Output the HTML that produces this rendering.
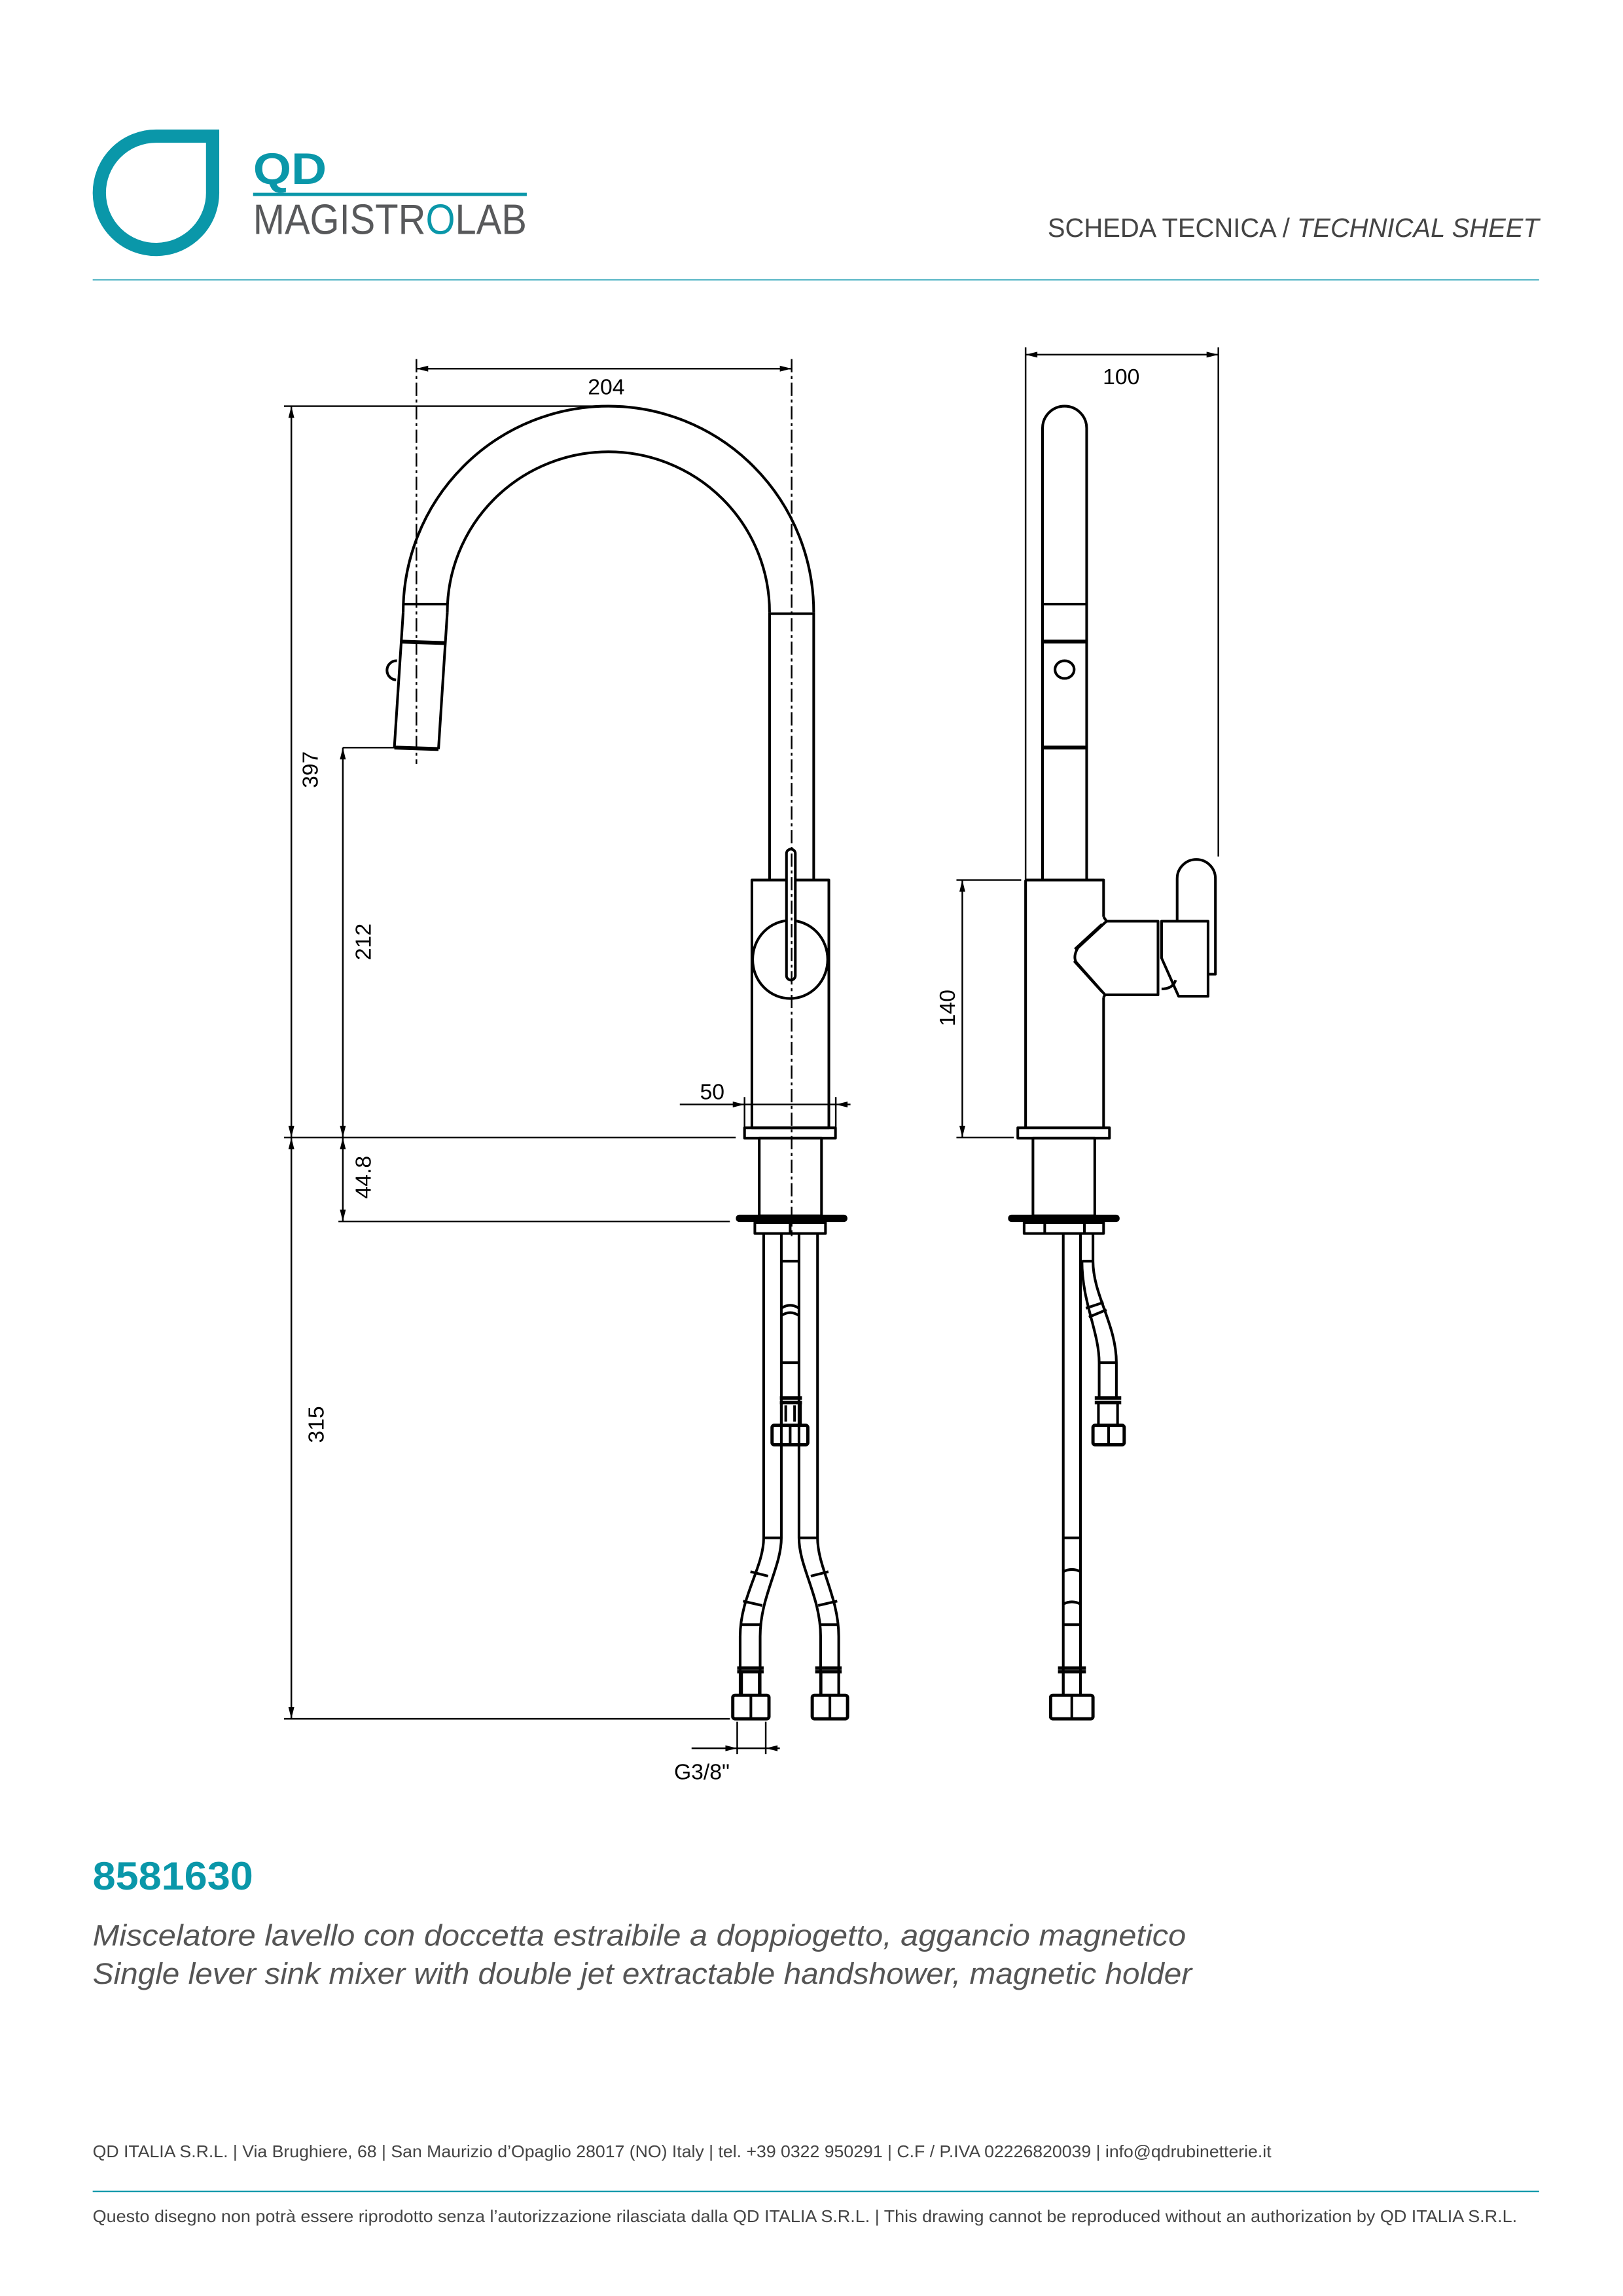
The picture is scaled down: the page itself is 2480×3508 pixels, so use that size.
<!DOCTYPE html>
<html><head><meta charset="utf-8"><style>
html,body{margin:0;padding:0;background:#fff;}
svg{display:block;}
</style></head><body>
<svg width="2480" height="3508" viewBox="0 0 1103 1560.2" xmlns="http://www.w3.org/2000/svg" font-family="Liberation Sans, sans-serif">
<rect width="1103" height="1561" fill="#fff"/>
<!-- Logo -->
<path d="M106,92.5 L144.5,92.5 L144.5,130 A38.5,38.5 0 1 1 106,92.5 Z" fill="none" stroke="#0a97a9" stroke-width="9"/>
<text x="172" y="125" font-size="30" font-weight="bold" fill="#0a97a9" textLength="50" lengthAdjust="spacingAndGlyphs">QD</text>
<rect x="172" y="131" width="186" height="2.2" fill="#0a97a9"/>
<text x="172" y="159" font-size="29" fill="#58595b" textLength="186" lengthAdjust="spacingAndGlyphs">MAGISTR<tspan fill="#0a97a9">O</tspan>LAB</text>
<text x="712" y="161" font-size="18" fill="#444" textLength="334" lengthAdjust="spacingAndGlyphs">SCHEDA TECNICA / <tspan font-style="italic">TECHNICAL SHEET</tspan></text>
<rect x="63" y="189.6" width="983" height="1" fill="#4fb3c3"/>

<g fill="none" stroke="#000" stroke-width="1.8" stroke-linejoin="round">
<!-- FRONT VIEW -->
<path d="M274,416 A139.5,140 0 0 1 553,416"/>
<path d="M304,416 A109.5,109 0 0 1 523,416"/>
<path d="M274,416 L268,508 M304,416 L298,509"/>
<path d="M274,410.5 L304,410.5"/>
<path d="M272.7,436 L302.7,437" stroke-width="2.6"/>
<path d="M268,508 L298,509" stroke-width="2.6"/>
<path d="M269.8,449 A6.5,6.5 0 0 0 269.2,462"/>
<path d="M523,417 L553,417 M523,416 V598 M553,416 V598"/>
<rect x="511" y="598" width="52.3" height="168.4"/>
<ellipse cx="537" cy="652" rx="25.5" ry="26.5"/>
<rect x="534.5" y="577" width="6" height="89" rx="3" fill="#fff"/>
<rect x="506" y="766.4" width="61.8" height="7"/>
<rect x="516" y="773.4" width="42.3" height="52.8"/>
<rect x="501" y="826.3" width="74" height="3.2" rx="1.5" fill="#000"/>
<rect x="513" y="830.8" width="48" height="7.4"/>
<path d="M537,830.8 V838.2"/>
<!-- front hoses -->
<path d="M519,839 V1045 C519,1065 503,1085 503,1112 V1152"/>
<path d="M531,839 V1045 C531,1065 516.6,1085 516.6,1112 V1152"/>
<path d="M555.6,839 V1045 C555.6,1065 570,1085 570,1112 V1152"/>
<path d="M543,839 V1045 C543,1065 557.7,1085 557.7,1112 V1152"/>
<path d="M519,1045 H531 M543,1045 H555.6 M510,1068 L522,1071 M551,1071 L563,1068 M505,1088 L518,1091 M556,1091 L569,1088 M503,1104 H516.6 M557.7,1104 H570"/>
<path d="M531,857 H543 M531,889 Q537,885 543,889 M531,894 Q537,890 543,894 M531,926 H543"/>
<path d="M530,950 H545 M530,953 H545" stroke-width="2.4"/>
<rect x="531" y="953" width="13" height="15.5"/>
<path d="M534,955 V966 M540,955 V966"/>
<rect x="524.7" y="968.5" width="24.3" height="13.3" rx="1.5" stroke-width="2.2"/>
<path d="M537,968.5 V981.8"/>
<path d="M501,1133.5 H519 M554,1133.5 H572 M501,1136 H519 M554,1136 H572" stroke-width="2.2"/>
<rect x="504" y="1136" width="12" height="16"/>
<rect x="558" y="1136" width="12" height="16"/>
<rect x="498" y="1152" width="24.6" height="16" rx="1.5" stroke-width="2.2"/>
<path d="M510.3,1152 V1168"/>
<rect x="552" y="1152" width="24" height="16" rx="1.5" stroke-width="2.2"/>
<path d="M564,1152 V1168"/>

<!-- SIDE VIEW -->
<path d="M708.5,598 V291 A15,15 0 0 1 738.5,291 V598"/>
<path d="M708.5,410.5 H738.5"/>
<path d="M708.5,436 H738.5" stroke-width="2.6"/>
<path d="M708.5,508 H738.5" stroke-width="2.6"/>
<ellipse cx="723.5" cy="455" rx="6.5" ry="6"/>
<path d="M697,598 H750 V623 M697,598 V766.4 M750,677.7 V766.4"/>
<path d="M750,623 L752,626 H787 V676 H751 L750,677.7"/>
<path d="M752,626 L732.6,644 Q729,650 731.5,654 L751,676"/>
<path d="M749,628 L730.5,645 M749,674 L730,653"/>
<path d="M789.4,626 H821 V677 H801 L789.4,651 Z"/>
<path d="M800,626 V597 A13,13 0 0 1 826,597 V662 H821"/>
<path d="M789.4,672 Q797,672 799,666"/>
<rect x="691.7" y="766.4" width="62.3" height="7"/>
<rect x="702" y="773.4" width="42" height="52.8"/>
<rect x="686" y="826.3" width="74" height="3.2" rx="1.5" fill="#000"/>
<rect x="696" y="830.8" width="54" height="7.4"/>
<path d="M710,830.8 V838.2 M737,830.8 V838.2"/>
<path d="M722.6,839 V1152 M734.3,839 V1152"/>
<path d="M722.6,1045 H734.3 M722.6,1068 Q728.5,1065 734.3,1068 M722.6,1090 Q728.5,1087 734.3,1090 M722.6,1104 H734.3"/>
<path d="M742.8,839 V857 C742.8,880 758.7,900 758.7,926 V950"/>
<path d="M735.3,857 C735.3,885 747,905 747,926 V950"/>
<path d="M735.3,857 H742.8 M738,889 L750,885 M740,895 L752,890 M747,926 H758.7"/>
<path d="M744,950 H762 M744,953 H762" stroke-width="2.4"/>
<rect x="746.5" y="953" width="13" height="15.5"/>
<rect x="742.8" y="968.5" width="21.2" height="13.3" rx="1.5" stroke-width="2.2"/>
<path d="M753.4,968.5 V981.8"/>
<path d="M719,1133.5 H738 M719,1136 H738" stroke-width="2.2"/>
<rect x="722.6" y="1136" width="11.7" height="16"/>
<rect x="714" y="1152" width="28.8" height="16" rx="1.5" stroke-width="2.2"/>
<path d="M728.4,1152 V1168"/>
</g>

<!-- centerlines -->
<g fill="none" stroke="#000" stroke-width="1.1" stroke-dasharray="9 2.5 2 2.5">
<path d="M283,244 V519"/>
<path d="M538,244 V840"/>
</g>

<!-- dimensions -->
<g fill="none" stroke="#000" stroke-width="1.1">
<path d="M283,250.5 H538"/>
<path d="M193,276 H408"/>
<path d="M198,276 V1168"/>
<path d="M233,508 H268 M233,508 V830"/>
<path d="M193,773 H500 M230,830 H496"/>
<path d="M193,1168 H496"/>
<path d="M462,750.5 H578 M506,745.5 V773 M568,745.5 V773"/>
<path d="M697,236 V598 M828,236 V582 M697,241 H828"/>
<path d="M650,598 H694 M650,773 H689 M654,598 V773"/>
<path d="M501,1170 V1192 M520.4,1170 V1192 M470,1188 H530"/>
</g>
<g fill="#000">
<polygon points="283,250.5 291,248.5 291,252.5"/>
<polygon points="538,250.5 530,248.5 530,252.5"/>
<polygon points="697,241 705,239 705,243"/>
<polygon points="828,241 820,239 820,243"/>
<polygon points="198,276 196,284 200,284"/>
<polygon points="198,773 196,765 200,765"/>
<polygon points="198,773 196,781 200,781"/>
<polygon points="198,1168 196,1160 200,1160"/>
<polygon points="233,508 231,516 235,516"/>
<polygon points="233,773 231,765 235,765"/>
<polygon points="233,773 231,781 235,781"/>
<polygon points="233,830 231,822 235,822"/>
<polygon points="654,598 652,606 656,606"/>
<polygon points="654,773 652,765 656,765"/>
<polygon points="506,750.5 498,748.5 498,752.5"/>
<polygon points="568,750.5 576,748.5 576,752.5"/>
<polygon points="501,1188 493,1186 493,1190"/>
<polygon points="520.4,1188 528.4,1186 528.4,1190"/>
</g>
<g font-size="15" fill="#000" text-anchor="middle">
<text x="412" y="268">204</text>
<text x="762" y="261">100</text>
<text x="484" y="747">50</text>
<text x="477" y="1209">G3/8"</text>
<text transform="translate(216,523) rotate(-90)">397</text>
<text transform="translate(252,640) rotate(-90)">212</text>
<text transform="translate(252,800) rotate(-90)">44.8</text>
<text transform="translate(220,968) rotate(-90)">315</text>
<text transform="translate(649,685) rotate(-90)">140</text>
</g>

<!-- bottom text -->
<text x="63" y="1284" font-size="27" font-weight="bold" fill="#0a97a9" textLength="109" lengthAdjust="spacingAndGlyphs">8581630</text>
<text x="63" y="1322" font-size="20" font-style="italic" fill="#555" textLength="743" lengthAdjust="spacingAndGlyphs">Miscelatore lavello con doccetta estraibile a doppiogetto, aggancio magnetico</text>
<text x="63" y="1348" font-size="20" font-style="italic" fill="#555" textLength="747" lengthAdjust="spacingAndGlyphs">Single lever sink mixer with double jet extractable handshower, magnetic holder</text>
<text x="63" y="1466" font-size="11.5" fill="#444" textLength="801" lengthAdjust="spacingAndGlyphs">QD ITALIA S.R.L. | Via Brughiere, 68 | San Maurizio d’Opaglio 28017 (NO) Italy | tel. +39 0322 950291 | C.F / P.IVA 02226820039 | info@qdrubinetterie.it</text>
<rect x="63" y="1488.6" width="983" height="1" fill="#0a97a9"/>
<text x="63" y="1510" font-size="11.5" fill="#444" textLength="968" lengthAdjust="spacingAndGlyphs">Questo disegno non potrà essere riprodotto senza l’autorizzazione rilasciata dalla QD ITALIA S.R.L. | This drawing cannot be reproduced without an authorization by QD ITALIA S.R.L.</text>
</svg>
</body></html>
